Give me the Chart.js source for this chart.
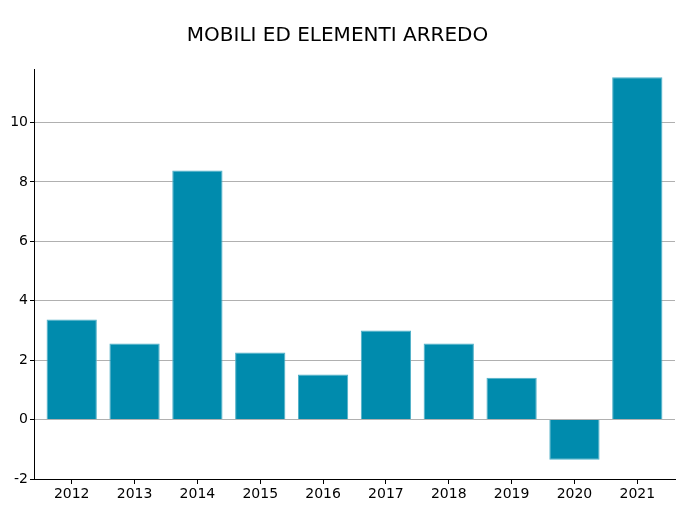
<!DOCTYPE html>
<html>
<head>
<meta charset="utf-8">
<script src="https://cdn.jsdelivr.net/npm/chart.js@4/dist/chart.umd.min.js"></script>
<style>
  html, body { margin: 0; padding: 0; background: #fff; }
  #wrap { width: 695px; height: 511px; }
</style>
</head>
<body>
<div id="wrap"><canvas id="chart-area" width="695" height="511"></canvas></div>
<script>
  var years = ['2012', '2013', '2014', '2015', '2016', '2017', '2018', '2019', '2020', '2021'];
  var values = [3.37, 2.56, 8.38, 2.26, 1.52, 3.0, 2.56, 1.41, -1.35, 11.52];
  var yTicks = [-2, 0, 2, 4, 6, 8, 10];
  var chartTitle = 'MOBILI ED ELEMENTI ARREDO';

  var font = 'DejaVu Sans';

  // bars sit on a numeric x axis so the end margins can be wider than half a slot
  var points = values.map(function (v, i) { return { x: i, y: v }; });

  var ctx = document.getElementById('chart-area').getContext('2d');
  window.myBar = new Chart(ctx, {
    type: 'bar',
    data: {
      datasets: [{
        data: points,
        backgroundColor: '#008bad',
        borderColor: '#4fb0c8',
        borderWidth: 1,
        barPercentage: 0.8,
        categoryPercentage: 1
      }]
    },
    options: {
      responsive: false,
      animation: false,
      layout: { padding: { left: 0, right: 20, top: 0, bottom: 0 } },
      plugins: {
        legend: { display: false },
        tooltip: { enabled: false },
        title: {
          display: true,
          text: chartTitle,
          color: '#000',
          font: { family: font, size: 20, weight: 'normal' },
          padding: { top: 24, bottom: 21 }
        }
      },
      scales: {
        x: {
          type: 'linear',
          min: -0.6,
          max: years.length - 0.4,
          offset: false,
          grid: { offset: false, drawOnChartArea: false, drawTicks: true, tickLength: 5, tickColor: '#000' },
          border: { color: '#000', width: 1 },
          ticks: {
            color: '#000', font: { family: font, size: 14 }, padding: 2, maxRotation: 0,
            callback: function (v) { return years[v]; }
          },
          afterBuildTicks: function (scale) {
            scale.ticks = years.map(function (y, i) { return { value: i }; });
          },
          afterFit: function (scale) { scale.height = 32; }
        },
        y: {
          min: -2,
          max: 11.8,
          grid: { color: '#b0b0b0', lineWidth: 1, drawTicks: true, tickLength: 4, tickColor: '#000' },
          border: { color: '#000', width: 1 },
          ticks: { color: '#000', font: { family: font, size: 14 }, padding: 2 },
          afterBuildTicks: function (scale) {
            scale.ticks = yTicks.map(function (v) { return { value: v }; });
          },
          afterFit: function (scale) { scale.width = 34; }
        }
      }
    }
  });
</script>
</body>
</html>
